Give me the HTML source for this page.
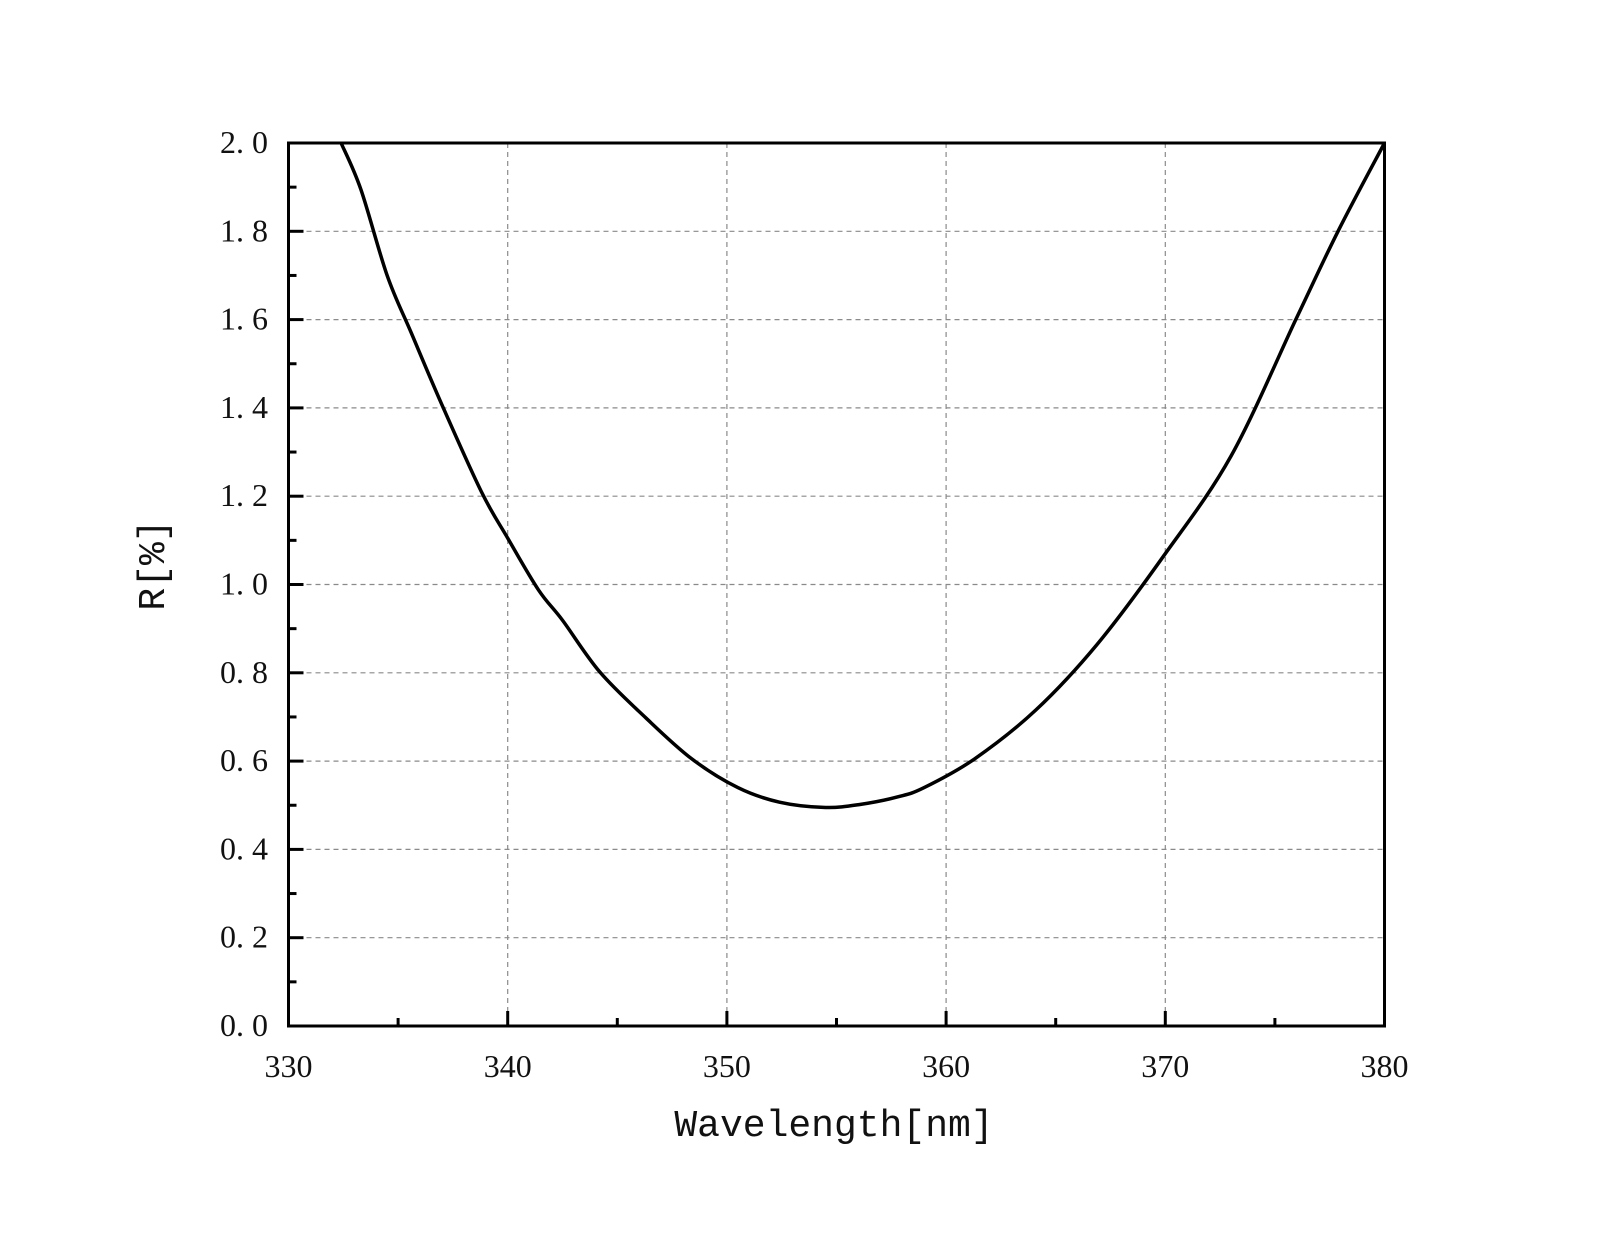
<!DOCTYPE html>
<html><head><meta charset="utf-8"><style>
html,body{margin:0;padding:0;background:#fff;}
svg text{fill:#111;}
</style></head><body>
<svg id="chart" width="1608" height="1231" xmlns="http://www.w3.org/2000/svg">
<rect width="1608" height="1231" fill="#fff"/>
<g id="grid"></g>
<g id="ticks"></g>
<g id="series"></g>
<rect x="288.5" y="143" width="1096" height="883" fill="none" stroke="#000" stroke-width="3"/>
<text x="834" y="1136" text-anchor="middle" font-family="Liberation Mono, monospace" font-size="38">Wavelength[nm]</text>
<text x="0" y="0" transform="translate(164,565) rotate(-90)" text-anchor="middle" font-family="Liberation Mono, monospace" font-size="38">R[%]</text>
</svg>
<script>
const xTicks = [330, 340, 350, 360, 370, 380];
const yTicks = [0, 0.2, 0.4, 0.6, 0.8, 1.0, 1.2, 1.4, 1.6, 1.8, 2.0];
const yTickLabels = ["0. 0","0. 2","0. 4","0. 6","0. 8","1. 0","1. 2","1. 4","1. 6","1. 8","2. 0"];
const wavelengths = [332.4,333.3,334.5,335.6,337.0,338.8,340.0,341.4,342.5,344.2,346.3,348.4,350.5,352.4,354.5,356.1,357.8,359.0,361.3,364.1,366.9,369.9,373.0,376.0,377.9,380.0];
const reflectance = [2.0,1.895,1.70,1.57,1.407,1.21,1.105,0.988,0.919,0.802,0.698,0.605,0.540,0.507,0.495,0.502,0.519,0.540,0.605,0.716,0.865,1.063,1.291,1.605,1.802,2.0];

const L=288.5,R=1384.5,T=143,B=1026;
const sx=v=>L+(v-330)/(380-330)*(R-L);
const sy=v=>B-(v-0)/(2.0-0)*(B-T);
const NS="http://www.w3.org/2000/svg";
function mk(tag,attrs,parent){const e=document.createElementNS(NS,tag);for(const k in attrs)e.setAttribute(k,attrs[k]);parent.appendChild(e);return e;}
const grid=document.getElementById('grid'),ticks=document.getElementById('ticks'),series=document.getElementById('series'),svg=document.getElementById('chart');
const gstyle={stroke:"#8a8a8a","stroke-width":1.2,"stroke-dasharray":"5 4",fill:"none"};
xTicks.forEach((v,i)=>{
  const x=sx(v);
  if(i>0&&i<xTicks.length-1){const g=mk('line',Object.assign({x1:x,x2:x,y1:T,y2:B},gstyle),grid);
  
  }
  const t=mk('line',{x1:x,x2:x,y1:B,y2:B-15,stroke:"#000","stroke-width":3},ticks);
  
  
  if(i<xTicks.length-1){const m=mk('line',{x1:sx(v+5),x2:sx(v+5),y1:B,y2:B-8,stroke:"#000","stroke-width":3},ticks);
  
  }
  const lb=mk('text',{x:x,y:1077,"text-anchor":"middle","font-family":"Liberation Serif, serif","font-size":32},svg);
  lb.textContent=String(v);
  
  
});
yTicks.forEach((v,i)=>{
  const y=sy(v);
  if(i>0&&i<yTicks.length-1){const g=mk('line',Object.assign({x1:L,x2:R,y1:y,y2:y},gstyle),grid);
  
  }
  const t=mk('line',{x1:L,x2:L+15,y1:y,y2:y,stroke:"#000","stroke-width":3},ticks);
  
  
  if(i<yTicks.length-1){const m=mk('line',{x1:L,x2:L+8,y1:sy(v+0.1),y2:sy(v+0.1),stroke:"#000","stroke-width":3},ticks);
  
  }
  const lb=mk('text',{x:268,y:y+10,"text-anchor":"end","font-family":"Liberation Serif, serif","font-size":32},svg);
  lb.textContent=yTickLabels[i];
  
  
});
// smooth path via Catmull-Rom
const pts=wavelengths.map((w,i)=>[sx(w),sy(reflectance[i])]);
let d=`M${pts[0][0]},${pts[0][1]}`;
for(let i=0;i<pts.length-1;i++){
  const p0=pts[Math.max(0,i-1)],p1=pts[i],p2=pts[i+1],p3=pts[Math.min(pts.length-1,i+2)];
  const c1=[p1[0]+(p2[0]-p0[0])/6,p1[1]+(p2[1]-p0[1])/6];
  const c2=[p2[0]-(p3[0]-p1[0])/6,p2[1]-(p3[1]-p1[1])/6];
  d+=` C${c1[0]},${c1[1]} ${c2[0]},${c2[1]} ${p2[0]},${p2[1]}`;
}
const path=mk('path',{d:d,fill:"none",stroke:"#000","stroke-width":3.5,"stroke-linejoin":"round"},series);


</script>
</body></html>
